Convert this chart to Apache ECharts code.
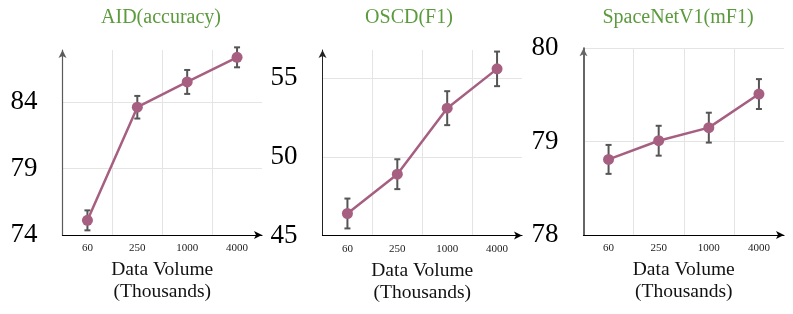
<!DOCTYPE html>
<html>
<head>
<meta charset="utf-8">
<script src="https://cdn.jsdelivr.net/npm/echarts@6/dist/echarts.min.js"></script>
<style>html,body{margin:0;padding:0;background:#fff}#c{width:793px;height:314px}</style>
</head>
<body>
<div id="c"></div>
<script>
const categories = ['60', '250', '1000', '4000'];
const titles = ['AID(accuracy)', 'OSCD(F1)', 'SpaceNetV1(mF1)'];
const xAxisName = 'Data Volume\n(Thousands)';

const aidValues = [75.1, 83.6, 85.5, 87.35];
const aidErr = [0.75, 0.85, 0.9, 0.75];
const oscdValues = [46.4, 48.9, 53.1, 55.6];
const oscdErr = [0.95, 0.95, 1.08, 1.1];
const spaceValues = [78.81, 79.01, 79.15, 79.51];
const spaceErr = [0.155, 0.16, 0.16, 0.16];

const yMins = [74, 45, 78];
const yMaxs = [87.9, 56.8, 80];
const yIntervals = [5, 5, 1];

const panels = [
  {values: aidValues, err: aidErr},
  {values: oscdValues, err: oscdErr},
  {values: spaceValues, err: spaceErr}
];

const grids = [
  {left: 62.5, top: 50, width: 199.5, height: 185},
  {left: 322.5, top: 50, width: 199.5, height: 185.5},
  {left: 583.5, top: 48.3, width: 200.5, height: 186.7}
];
const yLineStyles = [
  {color: '#5a5a5a', width: 1.2},
  {color: '#222', width: 1},
  {color: '#666', width: 2}
];
const titleCenters = [161, 409, 678];
const serif = 'Liberation Serif';

const chart = echarts.init(document.getElementById('c'), null, {renderer: 'canvas'});

const option = {
  animation: false,
  backgroundColor: '#fff',
  title: titles.map((t, i) => ({
    text: t,
    left: titleCenters[i],
    top: 8,
    padding: 0,
    textAlign: 'center',
    textStyle: {fontFamily: serif, fontSize: 20, fontWeight: 'normal', color: '#5b9a3d'}
  })),
  grid: grids.map(g => Object.assign({containLabel: false}, g)),
  xAxis: grids.map((g, i) => ({
    type: 'category',
    gridIndex: i,
    data: categories,
    boundaryGap: true,
    name: xAxisName,
    nameLocation: 'middle',
    nameGap: 24,
    nameTextStyle: {fontFamily: serif, fontSize: 19.5, color: '#111', lineHeight: 22},
    axisLine: {show: true, symbol: ['none', 'arrow'], symbolSize: [6, 8], lineStyle: {color: '#000', width: 1.2}},
    axisTick: {show: false},
    axisLabel: {fontFamily: serif, fontSize: 11, color: '#222', margin: 8},
    splitLine: {show: true, showMinLine: false, showMaxLine: false, lineStyle: {color: '#e4e4e4', width: 1}}
  })),
  yAxis: grids.map((g, i) => ({
    type: 'value',
    gridIndex: i,
    min: yMins[i],
    max: yMaxs[i],
    interval: yIntervals[i],
    axisLine: {show: true, symbol: ['none', 'arrow'], symbolSize: [6, 8], lineStyle: yLineStyles[i]},
    axisTick: {show: false},
    axisLabel: {fontFamily: serif, fontSize: 27, color: '#000', margin: 25, showMaxLabel: i === 2},
    splitLine: {show: true, showMinLine: false, showMaxLine: i === 2, lineStyle: {color: '#e4e4e4', width: 1}}
  })),
  series: []
};

panels.forEach((p, i) => {
  option.series.push({
    type: 'custom',
    xAxisIndex: i,
    yAxisIndex: i,
    z: 1,
    data: p.values.map((v, k) => [k, v - p.err[k], v + p.err[k]]),
    renderItem: function (params, api) {
      const x = api.value(0);
      const lo = api.coord([x, api.value(1)]);
      const hi = api.coord([x, api.value(2)]);
      const cap = 3;
      const st = {stroke: '#555', lineWidth: 2};
      return {
        type: 'group',
        children: [
          {type: 'line', shape: {x1: lo[0], y1: lo[1], x2: hi[0], y2: hi[1]}, style: st},
          {type: 'line', shape: {x1: lo[0] - cap, y1: lo[1], x2: lo[0] + cap, y2: lo[1]}, style: st},
          {type: 'line', shape: {x1: hi[0] - cap, y1: hi[1], x2: hi[0] + cap, y2: hi[1]}, style: st}
        ]
      };
    }
  });
  option.series.push({
    type: 'line',
    xAxisIndex: i,
    yAxisIndex: i,
    z: 3,
    data: p.values,
    symbol: 'circle',
    symbolSize: 11,
    lineStyle: {color: '#a65f80', width: 2.5},
    itemStyle: {color: '#a65f80'}
  });
});

chart.setOption(option);
</script>
</body>
</html>
